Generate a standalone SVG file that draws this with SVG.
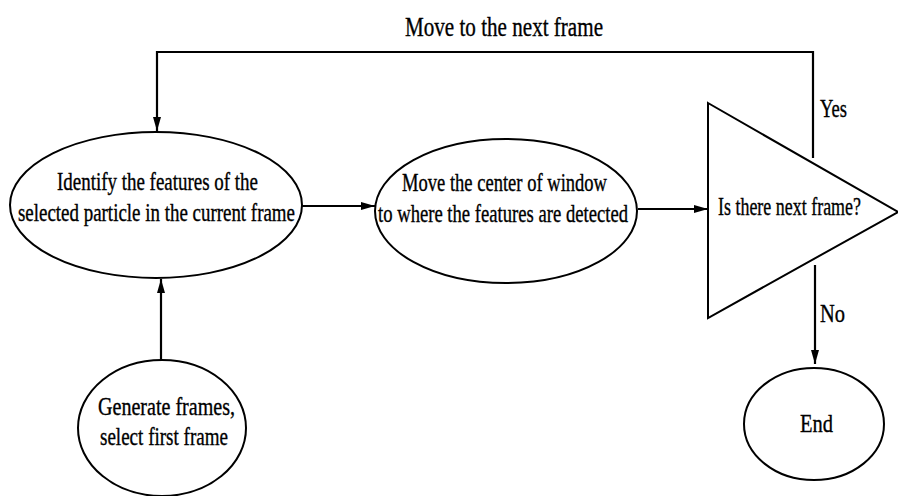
<svg xmlns="http://www.w3.org/2000/svg" width="898" height="496" viewBox="0 0 898 496">
<defs>
<marker id="arr" viewBox="0 0 14 10" refX="14" refY="5" markerWidth="14" markerHeight="10" markerUnits="userSpaceOnUse" orient="auto">
<path d="M0,1 L14,5 L0,9 Z" fill="#000"/>
</marker>
<style>
.shape{fill:#fff;stroke:#000;stroke-width:2}
.conn{fill:none;stroke:#000;stroke-width:2.2}
text{font-family:"Liberation Serif","Times New Roman",serif;font-size:25px;fill:#000;stroke:#000;stroke-width:0.35}
text.title{font-size:27px}
</style>
</defs>
<rect width="898" height="496" fill="#fff"/>
<g id="connectors">
<polyline class="conn" points="813,158 813,52 157,52 157,131" marker-end="url(#arr)"/>
<line class="conn" x1="302" y1="206" x2="375" y2="206" marker-end="url(#arr)"/>
<line class="conn" x1="638" y1="209" x2="708" y2="209" marker-end="url(#arr)"/>
<line class="conn" x1="161" y1="360" x2="161" y2="279" marker-end="url(#arr)"/>
<line class="conn" x1="815" y1="265" x2="815" y2="364" marker-end="url(#arr)"/>
<text class="title" x="405" y="36" textLength="198" lengthAdjust="spacingAndGlyphs">Move to the next frame</text>
<text x="820" y="117" textLength="27" lengthAdjust="spacingAndGlyphs">Yes</text>
<text x="820" y="322" textLength="25" lengthAdjust="spacingAndGlyphs">No</text>
</g>
<g id="identify">
<ellipse class="shape" cx="156" cy="205" rx="146" ry="73"/>
<text x="57" y="190" textLength="201" lengthAdjust="spacingAndGlyphs">Identify the features of the</text>
<text x="18" y="221" textLength="277" lengthAdjust="spacingAndGlyphs">selected particle in the current frame</text>
</g>
<g id="move">
<ellipse class="shape" cx="506" cy="211" rx="131" ry="72"/>
<text x="402" y="191" textLength="205" lengthAdjust="spacingAndGlyphs">Move the center of window</text>
<text x="378" y="222" textLength="250" lengthAdjust="spacingAndGlyphs">to where the features are detected</text>
</g>
<g id="decision">
<polygon class="shape" points="708,103 898,212 708,318"/>
<text x="718" y="215" textLength="143" lengthAdjust="spacingAndGlyphs">Is there next frame?</text>
</g>
<g id="generate">
<ellipse class="shape" cx="162" cy="428" rx="84" ry="68"/>
<text x="98" y="415" textLength="137" lengthAdjust="spacingAndGlyphs">Generate frames,</text>
<text x="100" y="445" textLength="128" lengthAdjust="spacingAndGlyphs">select first frame</text>
</g>
<g id="end">
<ellipse class="shape" cx="814" cy="424" rx="70" ry="56"/>
<text x="800" y="432" textLength="33" lengthAdjust="spacingAndGlyphs">End</text>
</g>
</svg>
